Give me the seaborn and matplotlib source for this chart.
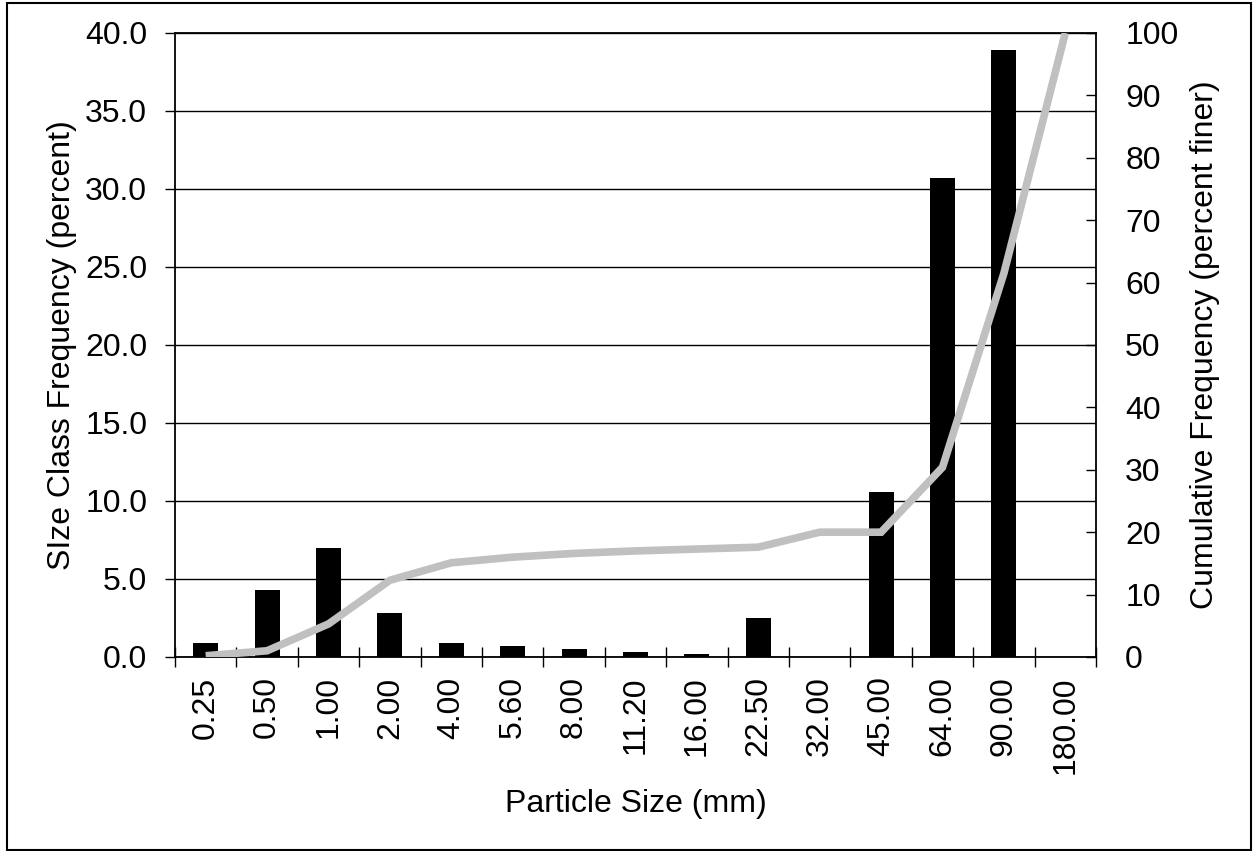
import numpy as np
import pandas as pd
import matplotlib
matplotlib.use("Agg")
import matplotlib.pyplot as plt
import seaborn as sns
from matplotlib.patches import Rectangle

# Data
sizes = ["0.25", "0.50", "1.00", "2.00", "4.00", "5.60", "8.00", "11.20",
         "16.00", "22.50", "32.00", "45.00", "64.00", "90.00", "180.00"]
class_freq = [0.9, 4.3, 7.0, 2.8, 0.9, 0.7, 0.5, 0.35, 0.2, 2.5, 0.0,
              10.6, 30.7, 38.9, 0.0]
cum_finer = [0.2, 1.0, 5.3, 12.3, 15.1, 16.0, 16.6, 17.0, 17.3, 17.6, 20.0,
             20.0, 30.4, 61.5, 100.0]
left_ticks = [0, 5, 10, 15, 20, 25, 30, 35, 40]
right_ticks = [0, 10, 20, 30, 40, 50, 60, 70, 80, 90, 100]

df = pd.DataFrame({"size": sizes, "freq": class_freq, "cum": cum_finer})
df["pos"] = np.arange(len(df))

sns.set_theme(style="white")
plt.rcParams["font.family"] = ["Liberation Sans", "DejaVu Sans"]
plt.rcParams["text.color"] = "black"
plt.rcParams["axes.labelcolor"] = "black"
plt.rcParams["xtick.color"] = "black"
plt.rcParams["ytick.color"] = "black"

FS = 23
W, H = 1255, 851
fig = plt.figure(figsize=(W / 100, H / 100), dpi=100)
fig.subplots_adjust(left=175 / W, right=1096 / W, top=1 - 33 / H, bottom=1 - 657 / H)
ax = fig.add_subplot(111)

sns.barplot(data=df, x="size", y="freq", order=sizes, color="black",
            saturation=1, width=0.41, ax=ax, edgecolor="black", linewidth=0)
ax.set_ylim(0, 40)
ax.set_xlim(-0.5, len(sizes) - 0.5)
ax.set_yticks(left_ticks)
ax.set_yticklabels([f"{t:.1f}" for t in left_ticks])
ax.yaxis.grid(True, color="black", linewidth=1.0)
ax.set_axisbelow(True)
ax.set_xticks(np.arange(len(sizes)))
ax.set_xticklabels(sizes, rotation=90)
ax.set_xticks(np.arange(len(sizes) + 1) - 0.5, minor=True)
ax.tick_params(axis="x", which="major", length=0, labelsize=FS, pad=14)
ax.tick_params(axis="x", which="minor", direction="inout", length=14,
               width=1.0, color="black", bottom=True)
ax.tick_params(axis="y", which="major", direction="out", length=7,
               width=1.0, color="black", labelsize=FS, pad=13, left=True)
for s in ax.spines.values():
    s.set_color("black")
    s.set_linewidth(1.3)
ax.set_xlabel("Particle Size (mm)", fontsize=FS, labelpad=11)
ax.set_ylabel("SIze Class Frequency (percent)", fontsize=FS, labelpad=6)

ax2 = ax.twinx()
sns.lineplot(data=df, x="pos", y="cum", color="#C0C0C0", linewidth=5.5,
             sort=False, ax=ax2, solid_capstyle="butt", solid_joinstyle="miter")
ax2.set_ylim(0, 100)
ax2.set_xlim(-0.5, len(sizes) - 0.5)
ax2.set_yticks(right_ticks)
ax2.set_yticklabels([str(t) for t in right_ticks])
ax2.tick_params(axis="y", which="major", direction="in", length=7,
                width=1.0, color="black", labelsize=FS, pad=21, right=True)
ax2.set_ylabel("Cumulative Frequency (percent finer)", fontsize=FS, labelpad=8)
ax2.set_xlabel("")
ax2.grid(False)
for s in ax2.spines.values():
    s.set_visible(False)

fig.patches.append(Rectangle((7 / W, 1 / H), (1251 - 7) / W, (849 - 2) / H,
                             transform=fig.transFigure, fill=False,
                             edgecolor="black", linewidth=1.5))

fig.savefig("out.png", dpi=100, facecolor="white")
